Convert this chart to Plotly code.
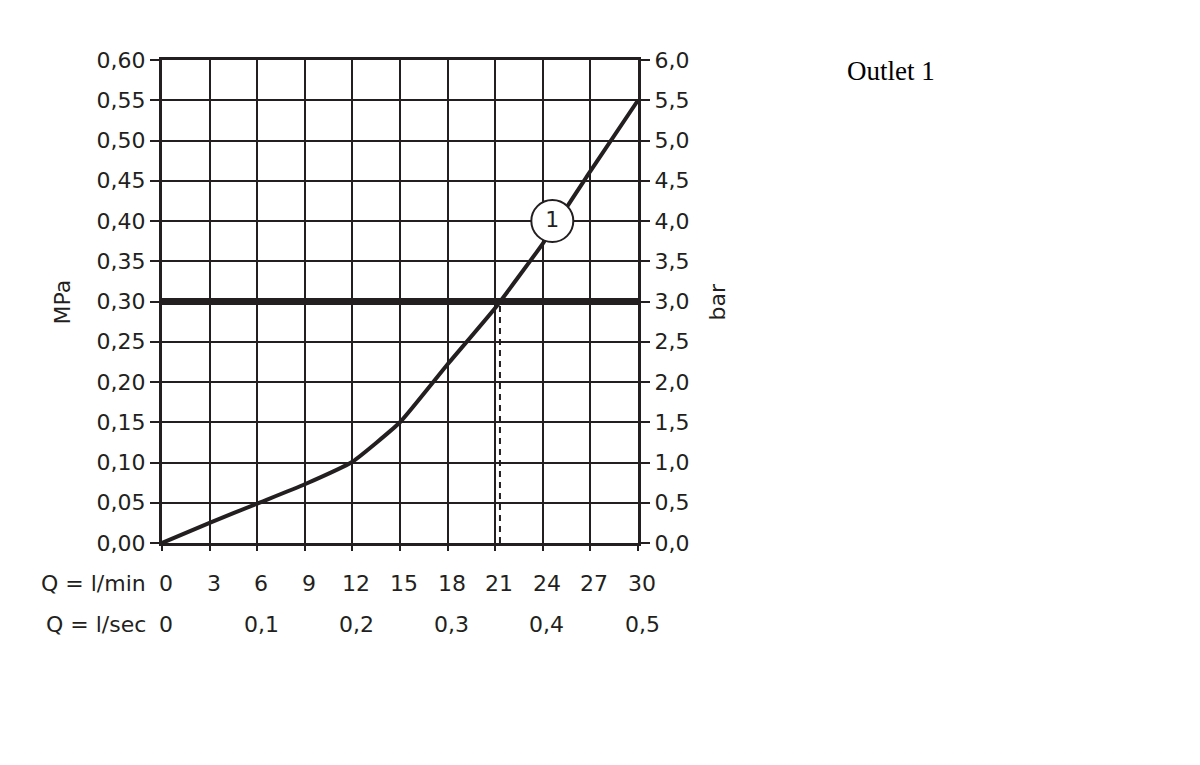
import plotly.graph_objects as go

# Flow rate (l/min) and pressure loss (MPa)
flow_lpm = [0, 3, 6, 9, 12, 15, 18, 21, 24, 27, 30]
pressure_mpa = [0, 0.025, 0.049, 0.073, 0.101, 0.150, 0.222, 0.292, 0.372, 0.462, 0.550]

# Operating pressure line and its flow
ref_pressure = 0.30
ref_flow = 21.3

# Curve label
curve_label = "1"
label_flow = 24.6
label_pressure = 0.40

# Tick labels
lpm_ticks = [0, 3, 6, 9, 12, 15, 18, 21, 24, 27, 30]
lpm_text = ["0", "3", "6", "9", "12", "15", "18", "21", "24", "27", "30"]
lps_ticks = [0, 6, 12, 18, 24, 30]
lps_text = ["0", "0,1", "0,2", "0,3", "0,4", "0,5"]
mpa_ticks = [0, 0.05, 0.10, 0.15, 0.20, 0.25, 0.30, 0.35, 0.40, 0.45, 0.50, 0.55, 0.60]
mpa_text = ["0,00", "0,05", "0,10", "0,15", "0,20", "0,25", "0,30",
            "0,35", "0,40", "0,45", "0,50", "0,55", "0,60"]
bar_ticks = [0, 0.5, 1, 1.5, 2, 2.5, 3, 3.5, 4, 4.5, 5, 5.5, 6]
bar_text = ["0,0", "0,5", "1,0", "1,5", "2,0", "2,5", "3,0",
            "3,5", "4,0", "4,5", "5,0", "5,5", "6,0"]

INK = "#231f20"
FONT = "DejaVu Sans"

fig = go.Figure()

# thick 0.30 MPa line
fig.add_trace(go.Scatter(
    x=[0, 30], y=[ref_pressure, ref_pressure],
    mode="lines", line=dict(color=INK, width=7),
    hoverinfo="skip", showlegend=False
))

# dashed drop line
fig.add_trace(go.Scatter(
    x=[ref_flow, ref_flow], y=[0, ref_pressure],
    mode="lines", line=dict(color=INK, width=2, dash="6px,5px"),
    hoverinfo="skip", showlegend=False
))

# pressure curve
fig.add_trace(go.Scatter(
    x=flow_lpm, y=pressure_mpa,
    mode="lines", line=dict(color=INK, width=4, shape="spline", smoothing=0.4),
    showlegend=False
))

# circled label
fig.add_trace(go.Scatter(
    x=[label_flow], y=[label_pressure],
    mode="markers+text", text=[curve_label], textposition="middle center",
    textfont=dict(family=FONT, size=22, color=INK),
    marker=dict(size=42, color="white", line=dict(color=INK, width=2)),
    showlegend=False
))

# invisible trace to activate right axis
fig.add_trace(go.Scatter(
    x=[0], y=[0], yaxis="y2", mode="markers",
    marker=dict(opacity=0), hoverinfo="skip", showlegend=False
))

axis_font = dict(family=FONT, size=22, color=INK)

annotations = []
for v, t in zip(lpm_ticks, lpm_text):
    annotations.append(dict(x=v, y=-0.083, xref="x", yref="paper", text=t,
                            showarrow=False, font=axis_font, xshift=4,
                            xanchor="center", yanchor="middle"))
for v, t in zip(lps_ticks, lps_text):
    annotations.append(dict(x=v, y=-0.168, xref="x", yref="paper", text=t,
                            showarrow=False, font=axis_font, xshift=4,
                            xanchor="center", yanchor="middle"))
annotations += [
    dict(x=-0.03, y=-0.083, xref="paper", yref="paper", text="Q = l/min",
         showarrow=False, font=axis_font, xanchor="right", yanchor="middle"),
    dict(x=-0.03, y=-0.168, xref="paper", yref="paper", text="Q = l/sec",
         showarrow=False, font=axis_font, xanchor="right", yanchor="middle"),
    dict(x=-0.208, y=0.50, xref="paper", yref="paper", text="MPa",
         textangle=-90, showarrow=False, font=axis_font,
         xanchor="center", yanchor="middle"),
    dict(x=1.168, y=0.50, xref="paper", yref="paper", text="bar",
         textangle=-90, showarrow=False, font=axis_font,
         xanchor="center", yanchor="middle"),
    dict(x=1.531, y=0.977, xref="paper", yref="paper", text="Outlet 1",
         showarrow=False, font=dict(family="Liberation Serif", size=27, color="black"),
         xanchor="center", yanchor="middle"),
]

fig.update_layout(
    width=1200, height=765,
    margin=dict(l=154, r=570, t=52, b=230),
    paper_bgcolor="white", plot_bgcolor="white",
    xaxis=dict(
        range=[0, 30], tickvals=lpm_ticks, showticklabels=False,
        ticks="outside", ticklen=5, tickwidth=2, tickcolor=INK,
        showgrid=True, gridcolor=INK, gridwidth=2,
        showline=True, linecolor=INK, linewidth=3, mirror=True,
        zeroline=False, fixedrange=True,
    ),
    yaxis=dict(
        range=[0, 0.60], tickvals=mpa_ticks, ticktext=mpa_text,
        ticks="outside", ticklen=9, tickwidth=2, tickcolor=INK,
        tickfont=axis_font,
        showgrid=True, gridcolor=INK, gridwidth=2,
        showline=True, linecolor=INK, linewidth=3,
        zeroline=False, fixedrange=True,
    ),
    yaxis2=dict(
        range=[0, 6], tickvals=bar_ticks, ticktext=bar_text,
        overlaying="y", side="right",
        ticks="outside", ticklen=9, tickwidth=2, tickcolor=INK,
        tickfont=axis_font,
        showgrid=False, showline=True, linecolor=INK, linewidth=3,
        zeroline=False, fixedrange=True,
    ),
    annotations=annotations,
)

fig.write_html("out.html")
